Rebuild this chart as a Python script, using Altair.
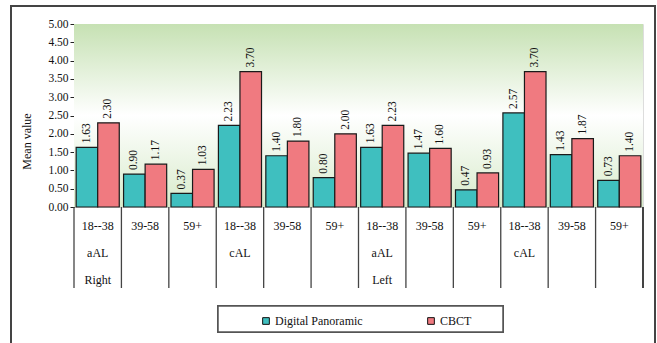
import altair as alt
import pandas as pd

ages = ["18--38", "39-58", "59+"] * 4
row2 = ["aAL", "", "", "cAL", "", "", "aAL", "", "", "cAL", "", ""]
row3 = ["Right", "", "", "", "", "", "Left", "", "", "", "", ""]
digital = [1.63, 0.90, 0.37, 2.23, 1.40, 0.80, 1.63, 1.47, 0.47, 2.57, 1.43, 0.73]
cbct = [2.30, 1.17, 1.03, 3.70, 1.80, 2.00, 2.23, 1.60, 0.93, 3.70, 1.87, 1.40]
series = ["Digital Panoramic", "CBCT"]
colors = ["#3fbfbf", "#f07a80"]
yticks = [0.0, 0.5, 1.0, 1.5, 2.0, 2.5, 3.0, 3.5, 4.0, 4.5, 5.0]

groups = [f"g{i}" for i in range(len(ages))]
rows = []
for i, g in enumerate(groups):
    rows.append({"group": g, "series": series[0], "value": digital[i]})
    rows.append({"group": g, "series": series[1], "value": cbct[i]})
df = pd.DataFrame(rows)
df["label"] = df["value"].map(lambda v: f"{v:.2f}")
cats = pd.DataFrame({"group": groups, "age": ages, "r2": row2, "r3": row3})

W, H = 569, 183
FONT = "Times New Roman"

xs = alt.Scale(domain=groups, paddingInner=0, paddingOuter=0)
xo = alt.Scale(domain=series, paddingInner=0, paddingOuter=0.1)
ys = alt.Scale(domain=[0, 5], nice=False)
yaxis = alt.Axis(format=".2f", values=yticks,
                 grid=False, domainColor="#222222", tickColor="#222222",
                 labelFont=FONT, labelFontSize=11.5, labelColor="#111111",
                 labelOverlap=False,
                 titleFont=FONT, titleFontSize=12, titleFontWeight="normal",
                 titleColor="#111111", titleX=-41, titleY=117, tickSize=4,
                 labelPadding=2)

bg = alt.Chart(cats).mark_rect(
    fill=alt.LinearGradient(
        gradient="linear", x1=0, y1=0, x2=0, y2=1,
        stops=[alt.GradientStop(offset=0, color="#c6e1b3"),
               alt.GradientStop(offset=0.5, color="#ffffff"),
               alt.GradientStop(offset=1, color="#d8ebcb")]),
).encode(x=alt.value(0), x2=alt.value(W), y=alt.value(0), y2=alt.value(H))

frame = alt.Chart(cats).mark_rect(fill=None, stroke="#444444", strokeWidth=1.5).encode(
    x=alt.value(-63), x2=alt.value(581), y=alt.value(-18), y2=alt.value(400))

bars = alt.Chart(df).mark_bar(stroke="#1a1a1a", strokeWidth=1.2).encode(
    x=alt.X("group:N", scale=xs, axis=None, sort=groups),
    xOffset=alt.XOffset("series:N", scale=xo, sort=series),
    y=alt.Y("value:Q", scale=ys, title="Mean value", axis=yaxis),
    fill=alt.Fill("series:N", scale=alt.Scale(domain=series, range=colors), sort=series,
                  legend=alt.Legend(orient="none", legendX=186, legendY=291, direction="horizontal",
                                    title=None, symbolType="square", symbolSize=45,
                                    symbolStrokeColor="#111111", symbolStrokeWidth=1,
                                    labelFont=FONT, labelFontSize=12, labelColor="#111111",
                                    columnPadding=62, labelOffset=3)),
)

labels = alt.Chart(df).mark_text(angle=270, align="left", baseline="middle", dx=4,
                                 font=FONT, fontSize=11.5, color="#111111").encode(
    x=alt.X("group:N", scale=xs, sort=groups, axis=None),
    xOffset=alt.XOffset("series:N", scale=xo, sort=series),
    y=alt.Y("value:Q", scale=ys, title="Mean value", axis=yaxis),
    text="label:N",
)

seps = alt.Chart(cats).mark_rule(color="#444444", strokeWidth=1.3).encode(
    x=alt.X("group:N", scale=xs, sort=groups, bandPosition=0, axis=None),
    y=alt.value(H), y2=alt.value(H + 81))
seps_end = alt.Chart(cats).mark_rule(color="#444444", strokeWidth=1.3).encode(
    x=alt.value(W), y=alt.value(H), y2=alt.value(H + 81))

def row_text(field, ypos):
    return alt.Chart(cats).mark_text(font=FONT, fontSize=12, color="#111111", baseline="middle").encode(
        x=alt.X("group:N", scale=xs, sort=groups, bandPosition=0.5, axis=None),
        y=alt.value(ypos), text=f"{field}:N")

legbox = alt.Chart(cats).mark_rect(fill="#ffffff", stroke="#555555", strokeWidth=1.5).encode(
    x=alt.value(144), x2=alt.value(429), y=alt.value(282), y2=alt.value(308))

chart = alt.layer(
    bg, legbox, bars, labels, seps, seps_end,
    row_text("age", H + 19), row_text("r2", H + 46), row_text("r3", H + 73), frame,
).properties(
    width=W, height=H,
    autosize=alt.AutoSizeParams(type="none"),
    padding={"left": 74, "top": 24, "right": 14, "bottom": 136},
).configure_view(stroke="#999999", strokeWidth=1).configure(background="#ffffff").configure_legend(
    labelFont=FONT, labelFontSize=12).configure_axis(labelFont=FONT, titleFont=FONT)

chart.save("out.html", embed_options={"renderer": "svg", "actions": False})
